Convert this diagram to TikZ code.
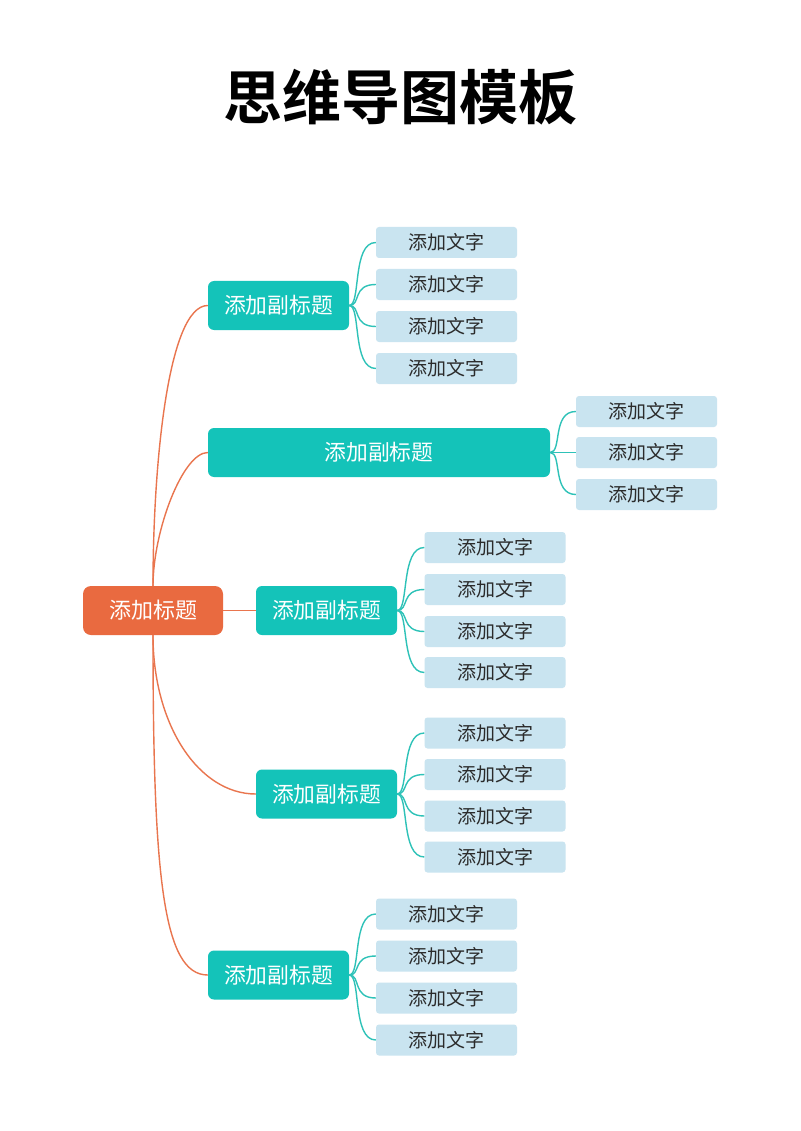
\documentclass[tikz,border=0pt]{standalone}
\usepackage{fontspec}
\newfontfamily\cjk{Noto Sans CJK SC}
\newfontfamily\cjkbold{Noto Sans CJK SC Bold}
\definecolor{mainc}{HTML}{E96A40}
\definecolor{subc}{HTML}{14C3B9}
\definecolor{leafc}{HTML}{C9E4F0}
\definecolor{textc}{HTML}{2B2B2B}
\definecolor{orangeline}{HTML}{E9754E}
\definecolor{tealline}{HTML}{2EC2B8}
\begin{document}
\begin{tikzpicture}[x=1pt,y=-1pt,
  mainbox/.style={rectangle, rounded corners=8pt, fill=mainc, minimum width=140pt, minimum height=49pt, inner sep=0pt, text=white, font=\cjk\fontsize{22}{22}\selectfont},
  subbox/.style={rectangle, rounded corners=6pt, fill=subc, minimum width=141pt, minimum height=49pt, inner sep=0pt, text=white, font=\cjk\fontsize{21.8}{22}\selectfont},
  leafbox/.style={rectangle, rounded corners=3pt, fill=leafc, minimum width=141pt, minimum height=31pt, inner sep=0pt, text=textc, font=\cjk\fontsize{19}{19}\selectfont},
  oline/.style={draw=orangeline, line width=1.4pt},
  tline/.style={draw=tealline, line width=1.4pt}]
\useasboundingbox[fill=white] (0,0) rectangle (800,1131);

\node[font=\cjkbold\fontsize{59}{59}\selectfont] (title) at (400,97) {思维导图模板};

\node[mainbox] (m) at (153,610.5) {添加标题};

\node[subbox] (s1) at (278.5,305.5) {添加副标题};
\node[subbox, minimum width=342pt] (s2) at (379,452.5) {添加副标题};
\node[subbox] (s3) at (326.5,610.5) {添加副标题};
\node[subbox] (s4) at (326.5,794) {添加副标题};
\node[subbox] (s5) at (278.5,975) {添加副标题};

% orange connectors
\draw[oline] (m.north) .. controls +(0,-120) and +(-40,0) .. (s1.west);
\draw[oline] (m.north) .. controls +(0,-55) and +(-25,0) .. (s2.west);
\draw[oline] (m.east) -- (s3.west);
\draw[oline] (m.south) .. controls +(0,90) and +(-57,0) .. (s4.west);
\draw[oline] (m.south) .. controls +(0,240) and +(-45,0) .. (s5.west);

% leaves
\foreach \y [count=\i] in {242.5,284.5,326.5,368.5}{
  \node[leafbox] (a\i) at (446.5,\y) {添加文字};
  \draw[tline] (s1.east) .. controls +(12,0) and +(-24,0) .. (a\i.west);
}
\foreach \y [count=\i] in {411.5,452.5,494.5}{
  \node[leafbox] (b\i) at (646.5,\y) {添加文字};
  \draw[tline] (s2.east) .. controls +(12,0) and +(-24,0) .. (b\i.west);
}
\foreach \y [count=\i] in {547.5,589.5,631.5,672.5}{
  \node[leafbox] (c\i) at (495,\y) {添加文字};
  \draw[tline] (s3.east) .. controls +(12,0) and +(-24,0) .. (c\i.west);
}
\foreach \y [count=\i] in {733,774.5,816,857}{
  \node[leafbox] (d\i) at (495,\y) {添加文字};
  \draw[tline] (s4.east) .. controls +(12,0) and +(-24,0) .. (d\i.west);
}
\foreach \y [count=\i] in {914,956,998,1040}{
  \node[leafbox] (e\i) at (446.5,\y) {添加文字};
  \draw[tline] (s5.east) .. controls +(12,0) and +(-24,0) .. (e\i.west);
}
\end{tikzpicture}
\end{document}
